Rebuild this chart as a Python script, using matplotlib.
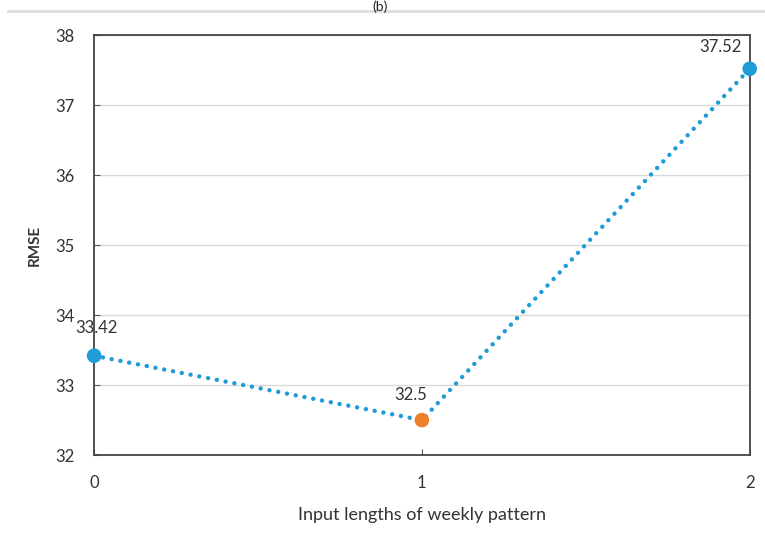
import matplotlib.pyplot as plt
from matplotlib.lines import Line2D

# data
lengths = [0, 1, 2]
rmse = [33.42, 32.5, 37.52]
point_colors = ["#1f9bd7", "#f07f2a", "#1f9bd7"]
value_labels = ["33.42", "32.5", "37.52"]
y_ticks = [32, 33, 34, 35, 36, 37, 38]

plt.rcParams['font.family'] = ['Lato', 'DejaVu Sans']

fig = plt.figure(figsize=(7.65, 5.49), dpi=100)
ax = fig.add_axes([0.123, 0.171, 0.857, 0.765])

# dotted line and markers
ax.plot(lengths, rmse, color="#1f9bd7", linestyle=(0, (0.01, 2.0)), linewidth=3.2,
        dash_capstyle='round', zorder=3, clip_on=False)
ax.scatter(lengths, rmse, c=point_colors, s=90, zorder=4, clip_on=False)

offsets = [(2, 14), (-8, 12), (-6, 10)]
for x, y, lab, off in zip(lengths, rmse, value_labels, offsets):
    ha = 'center' if x < 2 else 'right'
    ax.annotate(lab, (x, y), textcoords='offset points', xytext=off,
                ha=ha, va='bottom', fontsize=12, color="#333333")

ax.set_xlim(0, 2)
ax.set_ylim(32, 38)
ax.set_xticks(lengths)
ax.set_yticks(y_ticks)
ax.grid(axis='y', color="#d9d9d9", linewidth=1)
ax.set_axisbelow(True)
ax.tick_params(axis='both', direction='in', length=4, colors="#555555",
               labelcolor="#333333", labelsize=12, pad=14)
for s in ax.spines.values():
    s.set_color("#444444")
    s.set_linewidth(1.3)

ax.set_xlabel("Input lengths of weekly pattern", fontsize=13, color="#333333", labelpad=12)
ax.set_ylabel("RMSE", fontsize=11, fontweight='bold', color="#333333", labelpad=10)

# panel label and frame line at the top
fig.text(0.497, 1.0, "(b)", ha='center', va='top', fontsize=10, color="#222222")
fig.add_artist(Line2D([0.01, 1.0], [0.98, 0.98], color="#dddddd", linewidth=2,
                      transform=fig.transFigure))

plt.savefig('out.png', dpi=100)
